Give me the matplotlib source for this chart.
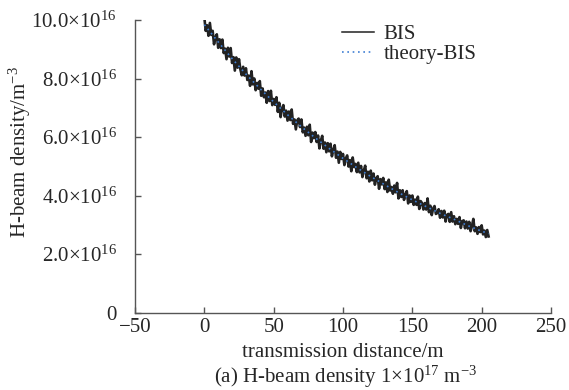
import matplotlib
matplotlib.use("Agg")
import matplotlib.pyplot as plt
from matplotlib.ticker import FixedLocator, FixedFormatter

plt.rcParams['font.family'] = ['Liberation Serif', 'DejaVu Serif']
plt.rcParams['mathtext.fontset'] = 'custom'
plt.rcParams['mathtext.rm'] = 'Liberation Serif'
plt.rcParams['mathtext.it'] = 'Liberation Serif:italic'
plt.rcParams['mathtext.default'] = 'rm'

# BIS measured density (units of 1e16 m^-3), 1 m steps from 0 to 205 m
bis_x = list(range(0, 206))
bis_y = [
    10.09, 9.63, 9.82, 9.46, 9.90, 9.49, 9.63, 9.17, 9.42, 9.51,
    9.05, 9.34, 9.04, 9.33, 8.87, 9.02, 8.66, 9.05, 8.75, 9.04,
    8.53, 8.73, 8.27, 8.72, 8.37, 8.66, 8.31, 8.11, 8.40, 8.10,
    8.35, 7.95, 8.10, 7.75, 8.25, 7.80, 8.00, 7.60, 7.85, 7.65,
    7.91, 7.41, 7.66, 7.36, 7.52, 7.17, 7.57, 7.23, 7.58, 7.09,
    7.30, 7.10, 7.36, 6.86, 7.17, 6.68, 6.98, 7.09, 6.70, 6.90,
    6.56, 6.87, 6.58, 6.94, 6.45, 6.60, 6.26, 6.57, 6.63, 6.34,
    6.60, 6.16, 6.32, 6.04, 6.35, 6.06, 6.42, 5.83, 6.15, 5.96,
    6.17, 5.83, 6.05, 5.61, 5.87, 6.04, 5.60, 5.81, 5.48, 5.79,
    5.51, 5.77, 5.34, 5.55, 5.72, 5.29, 5.50, 5.12, 5.49, 5.25,
    5.42, 5.04, 5.26, 5.37, 4.99, 5.21, 4.83, 5.30, 4.97, 5.08,
    4.80, 5.12, 4.79, 5.01, 4.63, 4.85, 5.02, 4.59, 4.81, 4.48,
    4.85, 4.52, 4.75, 4.37, 4.59, 4.66, 4.23, 4.56, 4.38, 4.60,
    4.22, 4.45, 4.12, 4.54, 4.17, 4.29, 4.06, 4.34, 4.11, 4.43,
    3.90, 4.18, 3.95, 4.18, 3.85, 4.03, 4.15, 3.73, 4.00, 3.78,
    4.00, 3.68, 3.86, 3.68, 3.96, 3.54, 3.81, 3.74, 3.52, 3.74,
    3.52, 3.90, 3.43, 3.65, 3.33, 3.56, 3.64, 3.37, 3.40, 3.53,
    3.24, 3.47, 3.25, 3.48, 3.11, 3.34, 3.37, 3.10, 3.43, 3.11,
    3.29, 3.02, 3.20, 3.03, 3.26, 2.89, 3.12, 3.15, 2.88, 3.11,
    2.87, 3.10, 2.78, 2.96, 3.20, 2.78, 2.91, 2.69, 2.92, 2.75,
    2.98, 2.67, 2.80, 2.58, 2.82, 2.60,
]

# theory-BIS (units of 1e16 m^-3)
theory_x = [0, 10, 20, 30, 40, 50, 60, 70, 80, 90, 100, 110, 120, 130, 140,
            150, 160, 170, 180, 190, 200, 205]
theory_y = [9.84, 9.25, 8.68, 8.15, 7.66, 7.20, 6.76, 6.35, 5.97, 5.61, 5.27,
            4.95, 4.65, 4.37, 4.10, 3.85, 3.62, 3.39, 3.19, 2.97, 2.78, 2.70]

x_ticks = [-50, 0, 50, 100, 150, 200, 250]
x_tick_labels = ['\u221250', '0', '50', '100', '150', '200', '250']
y_ticks = [0, 2, 4, 6, 8, 10]
y_tick_labels = ['0', r'$2.0{\times}10^{16}$', r'$4.0{\times}10^{16}$',
                 r'$6.0{\times}10^{16}$', r'$8.0{\times}10^{16}$',
                 r'$10.0{\times}10^{16}$']

text_color = '#262626'
spine_color = '#555555'

fig = plt.figure(figsize=(5.69, 3.90), dpi=100)
ax = fig.add_axes([135 / 569, 1 - 312.5 / 390, (551 - 135) / 569, (312.5 - 20) / 390])

ax.plot(bis_x, bis_y, color='#222222', lw=1.9, label='BIS')
ax.plot(theory_x, theory_y, color='#3f7fd4', lw=1.2, ls=(0, (1, 2.2)), label='theory-BIS')

ax.set_xlim(-50, 250)
ax.set_ylim(0, 10)
ax.xaxis.set_major_locator(FixedLocator(x_ticks))
ax.xaxis.set_major_formatter(FixedFormatter(x_tick_labels))
ax.yaxis.set_major_locator(FixedLocator(y_ticks))
ax.yaxis.set_major_formatter(FixedFormatter(y_tick_labels))

for s in ['top', 'right']:
    ax.spines[s].set_visible(False)
for s in ['left', 'bottom']:
    ax.spines[s].set_color(spine_color)
    ax.spines[s].set_linewidth(1.0)

ax.tick_params(direction='in', length=4, width=1.0, color=spine_color,
               labelcolor=text_color, labelsize=15)
ax.tick_params(axis='y', pad=13)
ax.tick_params(axis='x', pad=4)

ax.set_xlabel('transmission distance/m', fontsize=15, color=text_color)
ax.xaxis.set_label_coords(0.5, -0.105)
ax.set_ylabel(r'H-beam density/m$^{-3}$', fontsize=15, color=text_color)
ax.yaxis.set_label_coords(-0.244, 0.55)

fig.text(346 / 569, 1 - 377 / 390, r'(a) H-beam density 1$\times$10$^{17}$ m$^{-3}$',
         ha='center', va='center', fontsize=15, color=text_color)

leg = ax.legend(loc='upper left', bbox_to_anchor=(0.477, 1.012), frameon=False,
                fontsize=15, handlelength=1.55, handletextpad=0.45,
                labelspacing=0.0, borderaxespad=0.0)
leg.legend_handles[0].set_linewidth(1.1)
for t in leg.get_texts():
    t.set_color(text_color)

fig.savefig('out.png', dpi=100)
